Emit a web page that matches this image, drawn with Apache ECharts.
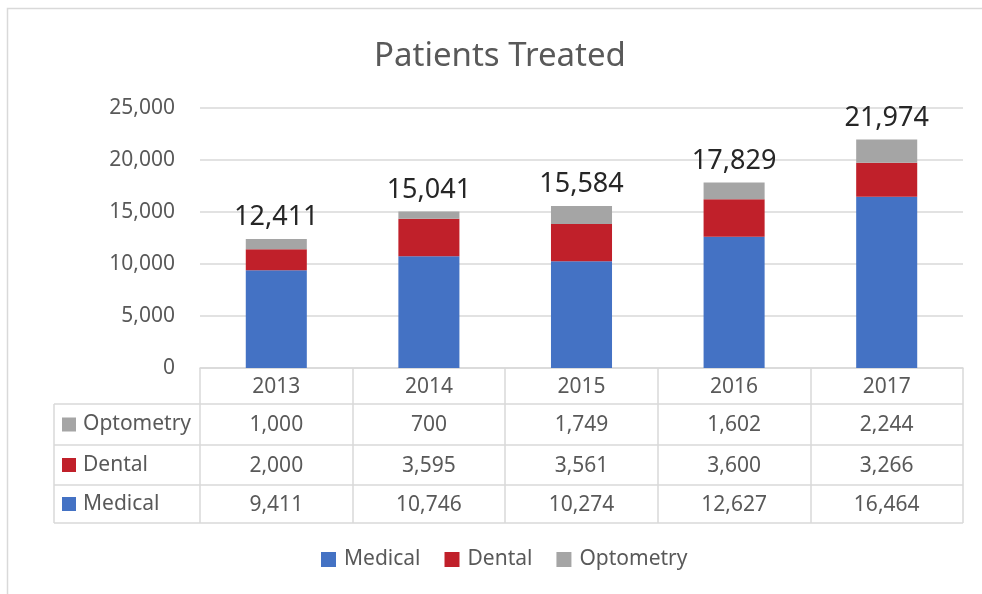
<!DOCTYPE html>
<html>
<head>
<meta charset="utf-8">
<title>Patients Treated</title>
<script src="https://cdn.jsdelivr.net/npm/echarts@6/dist/echarts.min.js"></script>
<style>
  html, body { margin: 0; padding: 0; background: #fff; }
  #chart { width: 982px; height: 594px; }
</style>
</head>
<body>
<div id="chart"></div>
<script>
// data
const years = ['2013', '2014', '2015', '2016', '2017'];
const medical = [9411, 10746, 10274, 12627, 16464];
const dental = [2000, 3595, 3561, 3600, 3266];
const optometry = [1000, 700, 1749, 1602, 2244];
const yTicks = [0, 5000, 10000, 15000, 20000, 25000];

const colors = { Medical: '#4472C4', Dental: '#C0202A', Optometry: '#A5A5A5' };
const fontFamily = '"Noto Sans", "Open Sans", sans-serif';
const textColor = '#595959';
const fmt = v => v.toLocaleString('en-US');

// totals above the bars
const totals = years.map((y, i) => medical[i] + dental[i] + optometry[i]);

// table geometry (grid is left 200 .. 963, axis at 368)
const gridLeft = 200, gridRight = 963, axisY = 368;
const rowLines = [404, 445, 485, 523];
const tableLeft = 54;
const lineColor = '#d9d9d9';

const chart = echarts.init(document.getElementById('chart'));

// outer border, table lines and row headers on the left
const graphics = [
  {
    type: 'rect',
    shape: { x: 7.5, y: 8.5, width: 1000, height: 600 },
    style: { fill: 'none', stroke: lineColor, lineWidth: 1.5 },
    silent: true
  },
  {
    type: 'line',
    shape: { x1: tableLeft, y1: rowLines[0], x2: tableLeft, y2: rowLines[3] },
    style: { stroke: lineColor, lineWidth: 1.5 }
  }
];
rowLines.forEach(y => {
  graphics.push({
    type: 'line',
    shape: { x1: tableLeft, y1: y, x2: gridRight, y2: y },
    style: { stroke: lineColor, lineWidth: 1.5 }
  });
});
['Optometry', 'Dental', 'Medical'].forEach((name, i) => {
  const cy = (rowLines[i] + rowLines[i + 1]) / 2;
  graphics.push({
    type: 'rect',
    shape: { x: 62, y: cy - 7, width: 14, height: 14 },
    style: { fill: colors[name] }
  });
  graphics.push({
    type: 'text',
    x: 83,
    y: cy,
    style: {
      text: name,
      fill: textColor,
      font: '21px ' + fontFamily,
      verticalAlign: 'middle'
    }
  });
});

const option = {
  animation: false,
  title: {
    text: 'Patients Treated',
    left: 369,
    top: 35,
    textStyle: { color: textColor, fontSize: 33, fontWeight: 'normal', fontFamily: fontFamily }
  },
  legend: {
    data: ['Medical', 'Dental', 'Optometry'],
    top: 544,
    left: 316,
    itemWidth: 15,
    itemHeight: 15,
    itemGap: 24,
    icon: 'rect',
    textStyle: { color: textColor, fontSize: 21, fontFamily: fontFamily, padding: [0, 0, 0, 3] }
  },
  grid: {
    left: gridLeft,
    right: 982 - gridRight,
    top: 108,
    bottom: 594 - axisY,
    containLabel: false
  },
  xAxis: {
    type: 'category',
    data: years,
    axisLine: { show: true, lineStyle: { color: lineColor, width: 1.5 } },
    axisTick: {
      show: true,
      interval: 0,
      alignWithLabel: false,
      length: rowLines[3] - axisY,
      lineStyle: { color: lineColor, width: 1.5 }
    },
    axisLabel: {
      interval: 0,
      margin: 1,
      color: textColor,
      fontFamily: fontFamily,
      fontSize: 21,
      // year header plus the three table rows
      formatter: (value, idx) => {
        return '{h|' + value + '}\n{o|' + fmt(optometry[idx]) + '}\n{d|' +
          fmt(dental[idx]) + '}\n{m|' + fmt(medical[idx]) + '}';
      },
      rich: {
        h: { fontSize: 21, lineHeight: 36, color: textColor, fontFamily: fontFamily },
        o: { fontSize: 21, lineHeight: 41, color: textColor, fontFamily: fontFamily },
        d: { fontSize: 21, lineHeight: 40, color: textColor, fontFamily: fontFamily },
        m: { fontSize: 21, lineHeight: 38, color: textColor, fontFamily: fontFamily }
      }
    }
  },
  yAxis: {
    type: 'value',
    min: yTicks[0],
    max: yTicks[yTicks.length - 1],
    interval: yTicks[1] - yTicks[0],
    axisLine: { show: false },
    axisTick: { show: false },
    axisLabel: {
      margin: 25,
      color: textColor,
      fontSize: 21,
      fontFamily: fontFamily,
      formatter: v => fmt(v)
    },
    splitLine: { lineStyle: { color: lineColor, width: 1.5 } }
  },
  series: [
    {
      name: 'Medical',
      type: 'bar',
      stack: 'total',
      barWidth: '40%',
      itemStyle: { color: colors.Medical },
      data: medical
    },
    {
      name: 'Dental',
      type: 'bar',
      stack: 'total',
      itemStyle: { color: colors.Dental },
      data: dental
    },
    {
      name: 'Optometry',
      type: 'bar',
      stack: 'total',
      itemStyle: { color: colors.Optometry },
      data: optometry,
      label: {
        show: true,
        position: 'top',
        distance: 8,
        color: '#262626',
        fontSize: 27,
        fontFamily: fontFamily,
        formatter: p => fmt(totals[p.dataIndex])
      }
    }
  ],
  graphic: graphics
};

chart.setOption(option);
</script>
</body>
</html>
